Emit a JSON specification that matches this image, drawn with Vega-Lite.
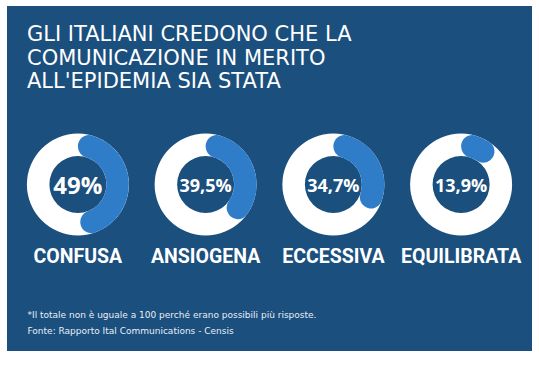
{
  "$schema": "https://vega.github.io/schema/vega-lite/v6.json",
  "width": 525,
  "height": 345,
  "autosize": {"type": "none"},
  "padding": {"left": 7, "top": 6, "right": 7, "bottom": 34},
  "background": "#ffffff",
  "config": {
    "view": {"fill": "#1b4f7e", "stroke": null}
  },
  "title": {
    "text": ["GLI ITALIANI CREDONO CHE LA", "COMUNICAZIONE IN MERITO", "ALL'EPIDEMIA SIA STATA"],
    "anchor": "start",
    "frame": "group",
    "orient": "top",
    "offset": -86,
    "dx": 20,
    "font": "DejaVu Sans",
    "fontSize": 21,
    "fontWeight": "normal",
    "lineHeight": 23.3,
    "color": "#ffffff"
  },
  "data": {
    "values": [
      {"voce": "CONFUSA", "valore": 49, "etichetta": "49%"},
      {"voce": "ANSIOGENA", "valore": 39.5, "etichetta": "39,5%"},
      {"voce": "ECCESSIVA", "valore": 34.7, "etichetta": "34,7%"},
      {"voce": "EQUILIBRATA", "valore": 13.9, "etichetta": "13,9%"}
    ]
  },
  "encoding": {
    "x": {
      "field": "voce",
      "type": "nominal",
      "sort": null,
      "scale": {"type": "point", "padding": 0.555},
      "axis": {
        "orient": "bottom",
        "labels": false,
        "ticks": false,
        "domain": false,
        "grid": false,
        "title": ["*Il totale non è uguale a 100 perché erano possibili più risposte.", "Fonte: Rapporto Ital Communications - Censis"],
        "titleX": 20,
        "titleY": -34,
        "titleAlign": "left",
        "titleBaseline": "alphabetic",
        "titleFont": "DejaVu Sans",
        "titleFontSize": 9,
        "titleFontWeight": "normal",
        "titleLineHeight": 16.5,
        "titleColor": "#e8eef5"
      }
    }
  },
  "layer": [
    {
      "mark": {"type": "arc", "outerRadius": 51, "innerRadius": 28.5, "color": "#ffffff", "yOffset": 6},
      "encoding": {
        "theta": {"datum": 100, "type": "quantitative", "scale": {"domain": [0, 100], "range": [0, 6.2832]}, "stack": null},
        "theta2": {"datum": 0}
      }
    },
    {
      "mark": {"type": "arc", "outerRadius": 51, "innerRadius": 28.5, "cornerRadius": 11, "color": "#2f7dc9", "yOffset": 6},
      "encoding": {
        "theta": {"field": "valore", "type": "quantitative", "stack": null},
        "theta2": {"datum": 0}
      }
    },
    {
      "mark": {"type": "text", "font": "Open Sans", "fontWeight": "bold", "color": "#ffffff", "baseline": "middle", "align": "center", "yOffset": 8},
      "encoding": {
        "text": {"field": "etichetta"},
        "size": {"condition": {"test": "datum.voce === 'CONFUSA'", "value": 24}, "value": 18}
      }
    },
    {
      "mark": {"type": "text", "font": "Roboto", "fontWeight": "bold", "fontSize": 19.5, "color": "#ffffff", "baseline": "middle", "align": "center", "yOffset": 78.5},
      "encoding": {
        "text": {"field": "voce"}
      }
    }
  ]
}
